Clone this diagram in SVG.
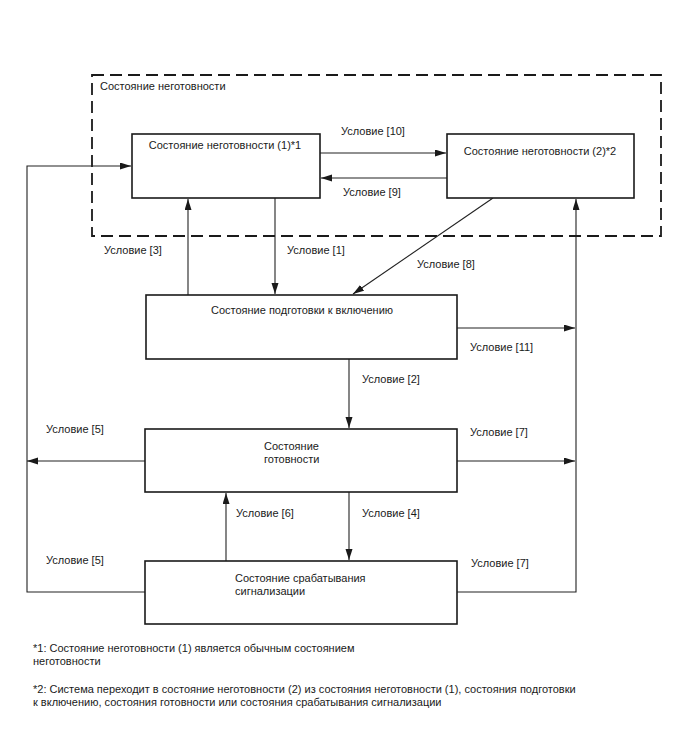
<svg xmlns="http://www.w3.org/2000/svg" width="688" height="755" viewBox="0 0 688 755">
<style>
text{font-family:"Liberation Sans",Arial,sans-serif;font-size:11px;fill:#1a1a1a}
.box{fill:#fff;stroke:#1a1a1a;stroke-width:1.6}
.c{fill:none;stroke:#222;stroke-width:1.1}
.dash{fill:none;stroke:#1a1a1a;stroke-width:1.8;stroke-dasharray:12,6}
.mid{text-anchor:middle}
</style>
<defs>
<marker id="ah" markerUnits="userSpaceOnUse" markerWidth="12" markerHeight="8" refX="11" refY="3.5" orient="auto">
<path d="M0,0 L11,3.5 L0,7 z" fill="#1a1a1a"/>
</marker>
</defs>
<rect width="688" height="755" fill="#fff"/>
<g id="group-notready">
<rect class="dash" x="92" y="75" width="569" height="161"/>
<text x="100" y="90">Состояние неготовности</text>
</g>
<g id="connectors">
<path class="c" d="M320,153 H446" marker-end="url(#ah)"/>
<path class="c" d="M447,178 H321" marker-end="url(#ah)"/>
<path class="c" d="M188,295 V199" marker-end="url(#ah)"/>
<path class="c" d="M275,198 V294" marker-end="url(#ah)"/>
<path class="c" d="M493,198 L353,294" marker-end="url(#ah)"/>
<path class="c" d="M457,328 H575" marker-end="url(#ah)"/>
<path class="c" d="M349,359 V428" marker-end="url(#ah)"/>
<path class="c" d="M349,492 V560" marker-end="url(#ah)"/>
<path class="c" d="M226,561 V493" marker-end="url(#ah)"/>
<path class="c" d="M145,461 H27" marker-end="url(#ah)"/>
<path class="c" d="M145,592 H27 V166 H131" marker-end="url(#ah)"/>
<path class="c" d="M457,461 H575" marker-end="url(#ah)"/>
<path class="c" d="M457,592 H576 V199" marker-end="url(#ah)"/>
<text x="341" y="135">Условие [10]</text>
<text x="343" y="196">Условие [9]</text>
<text x="104" y="254">Условие [3]</text>
<text x="287" y="254">Условие [1]</text>
<text x="417" y="268">Условие [8]</text>
<text x="470" y="351">Условие [11]</text>
<text x="362" y="383">Условие [2]</text>
<text x="46" y="433">Условие [5]</text>
<text x="470" y="436">Условие [7]</text>
<text x="236" y="517">Условие [6]</text>
<text x="362" y="517">Условие [4]</text>
<text x="46" y="564">Условие [5]</text>
<text x="471" y="567">Условие [7]</text>
</g>
<g id="node-notready1">
<rect class="box" x="132" y="134" width="188" height="64"/>
<text class="mid" x="225" y="149">Состояние неготовности (1)*1</text>
</g>
<g id="node-notready2">
<rect class="box" x="447" y="134" width="187" height="64"/>
<text class="mid" x="540" y="155">Состояние неготовности (2)*2</text>
</g>
<g id="node-prep">
<rect class="box" x="146" y="295" width="311" height="64"/>
<text class="mid" x="302" y="314">Состояние подготовки к включению</text>
</g>
<g id="node-ready">
<rect class="box" x="145" y="429" width="312" height="63"/>
<text x="264" y="450">Состояние</text>
<text x="264" y="463">готовности</text>
</g>
<g id="node-alarm">
<rect class="box" x="145" y="561" width="312" height="63"/>
<text x="235" y="582">Состояние срабатывания</text>
<text x="235" y="595">сигнализации</text>
</g>
<g id="footnotes">
<text x="33" y="652">*1: Состояние неготовности (1) является обычным состоянием</text>
<text x="33" y="665">неготовности</text>
<text x="33" y="693">*2: Система переходит в состояние неготовности (2) из состояния неготовности (1), состояния подготовки</text>
<text x="33" y="706">к включению, состояния готовности или состояния срабатывания сигнализации</text>
</g>
</svg>
